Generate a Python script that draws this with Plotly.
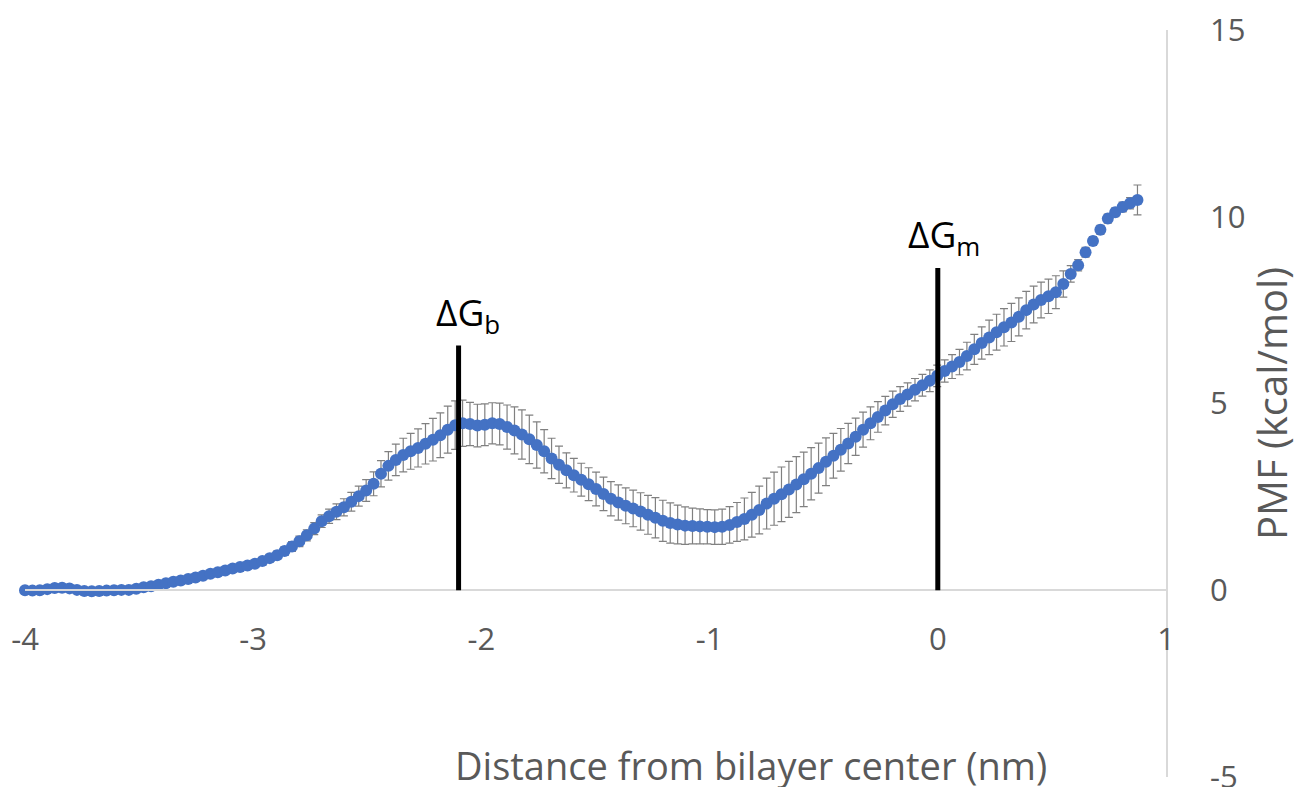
import plotly.graph_objects as go

# ---- data ----
distance_nm = [
    -4.0000, -3.9675, -3.9350, -3.9025, -3.8700, -3.8375, -3.8050, -3.7725, -3.7400, -3.7075,
    -3.6750, -3.6425, -3.6100, -3.5775, -3.5450, -3.5125, -3.4800, -3.4475, -3.4150, -3.3825,
    -3.3500, -3.3175, -3.2850, -3.2525, -3.2200, -3.1875, -3.1550, -3.1225, -3.0900, -3.0575,
    -3.0250, -2.9925, -2.9600, -2.9275, -2.8950, -2.8625, -2.8300, -2.7975, -2.7650, -2.7325,
    -2.7000, -2.6675, -2.6350, -2.6025, -2.5700, -2.5375, -2.5050, -2.4725, -2.4400, -2.4075,
    -2.3750, -2.3425, -2.3100, -2.2775, -2.2450, -2.2125, -2.1800, -2.1475, -2.1150, -2.0825,
    -2.0500, -2.0175, -1.9850, -1.9525, -1.9200, -1.8875, -1.8550, -1.8225, -1.7900, -1.7575,
    -1.7250, -1.6925, -1.6600, -1.6275, -1.5950, -1.5625, -1.5300, -1.4975, -1.4650, -1.4325,
    -1.4000, -1.3675, -1.3350, -1.3025, -1.2700, -1.2375, -1.2050, -1.1725, -1.1400, -1.1075,
    -1.0750, -1.0425, -1.0100, -0.9775, -0.9450, -0.9125, -0.8800, -0.8475, -0.8150, -0.7825,
    -0.7500, -0.7175, -0.6850, -0.6525, -0.6200, -0.5875, -0.5550, -0.5225, -0.4900, -0.4575,
    -0.4250, -0.3925, -0.3600, -0.3275, -0.2950, -0.2625, -0.2300, -0.1975, -0.1650, -0.1325,
    -0.1000, -0.0675, -0.0350, -0.0025, 0.0300, 0.0625, 0.0950, 0.1275, 0.1600, 0.1925,
    0.2250, 0.2575, 0.2900, 0.3225, 0.3550, 0.3875, 0.4200, 0.4525, 0.4850, 0.5175,
    0.5500, 0.5825, 0.6150, 0.6475, 0.6800, 0.7125, 0.7450, 0.7775, 0.8100, 0.8425,
    0.8750,
]

pmf_kcal = [
    0.00, -0.01, 0.00, 0.03, 0.06, 0.07, 0.05, 0.01, -0.02, -0.03,
    -0.02, -0.01, 0.00, 0.01, 0.01, 0.04, 0.08, 0.11, 0.15, 0.19,
    0.23, 0.26, 0.30, 0.34, 0.39, 0.44, 0.48, 0.53, 0.58, 0.62,
    0.66, 0.71, 0.78, 0.86, 0.94, 1.05, 1.17, 1.31, 1.47, 1.65,
    1.85, 1.98, 2.10, 2.22, 2.37, 2.52, 2.67, 2.85, 3.12, 3.33,
    3.49, 3.62, 3.72, 3.81, 3.92, 4.03, 4.15, 4.30, 4.42, 4.47,
    4.45, 4.41, 4.43, 4.47, 4.45, 4.37, 4.28, 4.17, 4.04, 3.89,
    3.72, 3.53, 3.36, 3.21, 3.08, 2.96, 2.84, 2.71, 2.58, 2.45,
    2.35, 2.26, 2.19, 2.11, 2.02, 1.94, 1.86, 1.80, 1.76, 1.73,
    1.72, 1.71, 1.70, 1.69, 1.70, 1.75, 1.83, 1.91, 2.02, 2.15,
    2.32, 2.45, 2.57, 2.70, 2.83, 2.97, 3.12, 3.27, 3.44, 3.60,
    3.76, 3.93, 4.11, 4.30, 4.47, 4.64, 4.81, 4.98, 5.12, 5.24,
    5.37, 5.49, 5.61, 5.74, 5.87, 5.99, 6.11, 6.27, 6.45, 6.62,
    6.77, 6.91, 7.04, 7.17, 7.32, 7.50, 7.65, 7.77, 7.87, 7.98,
    8.20, 8.47, 8.70, 9.05, 9.35, 9.65, 9.95, 10.12, 10.26, 10.36,
    10.45,
]

pmf_err = [
    0.02, 0.02, 0.02, 0.02, 0.02, 0.02, 0.02, 0.02, 0.02, 0.02,
    0.02, 0.02, 0.02, 0.03, 0.03, 0.03, 0.03, 0.03, 0.04, 0.04,
    0.04, 0.04, 0.05, 0.05, 0.05, 0.06, 0.06, 0.06, 0.07, 0.07,
    0.08, 0.09, 0.10, 0.10, 0.11, 0.12, 0.13, 0.14, 0.15, 0.16,
    0.17, 0.19, 0.21, 0.23, 0.25, 0.27, 0.29, 0.32, 0.35, 0.38,
    0.42, 0.45, 0.48, 0.51, 0.54, 0.57, 0.60, 0.63, 0.65, 0.62,
    0.58, 0.57, 0.56, 0.55, 0.56, 0.59, 0.63, 0.66, 0.65, 0.62,
    0.58, 0.54, 0.50, 0.47, 0.45, 0.44, 0.44, 0.45, 0.45, 0.46,
    0.47, 0.48, 0.49, 0.50, 0.52, 0.54, 0.55, 0.54, 0.52, 0.50,
    0.48, 0.47, 0.46, 0.46, 0.47, 0.49, 0.52, 0.56, 0.60, 0.64,
    0.68, 0.71, 0.73, 0.75, 0.75, 0.73, 0.70, 0.67, 0.64, 0.60,
    0.57, 0.54, 0.50, 0.47, 0.44, 0.41, 0.38, 0.35, 0.33, 0.31,
    0.30, 0.29, 0.29, 0.29, 0.30, 0.32, 0.34, 0.37, 0.40, 0.43,
    0.46, 0.48, 0.50, 0.51, 0.51, 0.50, 0.49, 0.48, 0.46, 0.44,
    0.35, 0.22, 0.15, 0.13, 0.12, 0.12, 0.12, 0.12, 0.13, 0.15,
    0.40,
]

x_ticks = [-4, -3, -2, -1, 0, 1]
x_ticktext = ["-4", "-3", "-2", "-1", "0", "1"]
y_ticks = [-5, 0, 5, 10, 15]
y_ticktext = ["-5", "0", "5", "10", "15"]

# vertical markers for the free-energy differences
marker_x = [-2.1, 0.0]
marker_top = [6.55, 8.63]
marker_text = ["ΔG<sub>b</sub>", "ΔG<sub>m</sub>"]
marker_xshift = [9, 6]

x_title = "Distance from bilayer center (nm)"
y_title = "PMF (kcal/mol)"

FONT = "Open Sans"
GRAY = "#595959"

fig = go.Figure()
fig.add_trace(go.Scatter(
    x=distance_nm, y=pmf_kcal,
    mode="markers",
    marker=dict(color="#4472C4", size=12, line=dict(width=0)),
    error_y=dict(type="data", array=pmf_err, visible=True,
                 color="#808080", thickness=1.2, width=4),
    showlegend=False,
    cliponaxis=False,
))

for xv, yt, txt, xs in zip(marker_x, marker_top, marker_text, marker_xshift):
    fig.add_shape(type="line", x0=xv, x1=xv, y0=0, y1=yt,
                  xref="x", yref="y", line=dict(color="black", width=5),
                  layer="above")
    fig.add_annotation(x=xv, y=yt, xref="x", yref="y", text=txt,
                       showarrow=False, xanchor="center", yanchor="bottom",
                       xshift=xs, yshift=2,
                       font=dict(family=FONT, size=37, color="black"))

fig.add_annotation(x=0.636, y=0.016, xref="paper", yref="paper", text=x_title,
                   showarrow=False, xanchor="center", yanchor="middle",
                   font=dict(family=FONT, size=38, color=GRAY))

fig.update_layout(
    width=1299, height=787,
    margin=dict(l=25, r=133, t=30, b=10, autoexpand=False),
    paper_bgcolor="white", plot_bgcolor="white",
    font=dict(family=FONT, color=GRAY),
    xaxis=dict(
        range=[-4, 1], tickvals=x_ticks, ticktext=x_ticktext,
        showgrid=False, zeroline=False, automargin=False,
        showline=True, linecolor="#D9D9D9", linewidth=1.5,
        anchor="free", position=0.25, ticks="",
        ticklabelstandoff=22, ticklabeloverflow="allow",
        tickfont=dict(family=FONT, size=31, color=GRAY),
    ),
    yaxis=dict(
        range=[-5, 15], tickvals=y_ticks, ticktext=y_ticktext,
        showgrid=False, zeroline=False, automargin=False,
        showline=True, linecolor="#D9D9D9", linewidth=1.5,
        side="right", ticks="", ticklabelstandoff=36,
        ticklabeloverflow="allow",
        tickfont=dict(family=FONT, size=31, color=GRAY),
        title=dict(text=y_title, font=dict(family=FONT, size=40, color=GRAY),
                   standoff=15),
    ),
)

fig.write_html("out.html")
